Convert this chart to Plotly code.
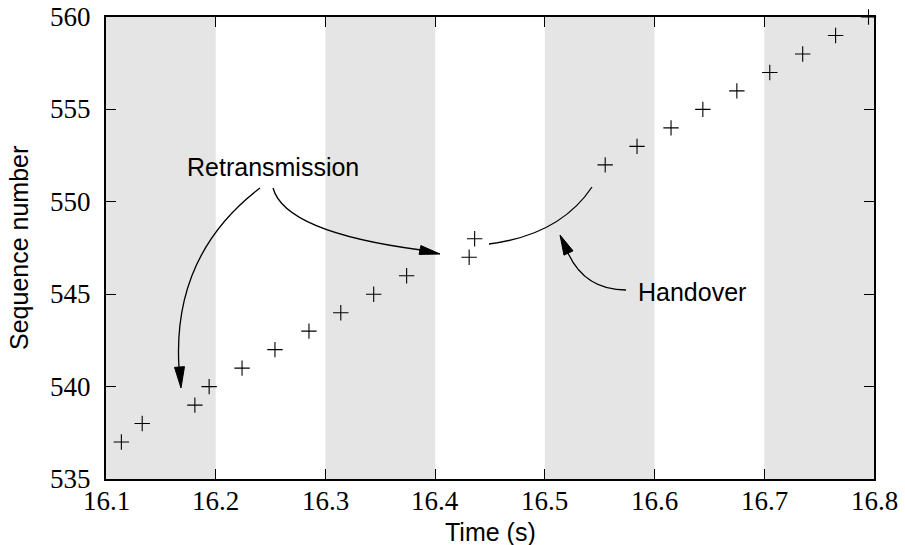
import plotly.graph_objects as go

# ---- data ----
time_s = [16.114, 16.133, 16.181, 16.194, 16.224, 16.254, 16.285, 16.314,
          16.344, 16.374, 16.431, 16.436, 16.555, 16.584, 16.615, 16.644,
          16.675, 16.705, 16.735, 16.765, 16.795]
seq_no = [537, 538, 539, 540, 541, 542, 543, 544, 545, 546, 547, 548,
          552, 553, 554, 555, 556, 557, 558, 559, 560]
band_starts = [16.1, 16.3, 16.5, 16.7]
band_width = 0.1
x_ticks = [16.1, 16.2, 16.3, 16.4, 16.5, 16.6, 16.7, 16.8]
y_ticks = [535, 540, 545, 550, 555, 560]
x_tick_labels = [f"{v:.1f}" for v in x_ticks]
y_tick_labels = [str(v) for v in y_ticks]

# ---- layout constants ----
W, H = 905, 545
ML, MR, MT, MB = 106, 31, 17, 66
XR = [16.1, 16.8]
YR = [535, 560]
PW = W - ML - MR
PH = H - MT - MB


def px2x(px):
    return XR[0] + (px - ML) / PW * (XR[1] - XR[0])


def py2y(py):
    return YR[1] - (py - MT) / PH * (YR[1] - YR[0])


def pt(px, py):
    return f"{px2x(px)},{py2y(py)}"


def curve(p0, c, p2):
    return dict(type="path", xref="x", yref="y",
                path=f"M {pt(*p0)} Q {pt(*c)} {pt(*p2)}",
                line=dict(color="black", width=1.3), layer="above")


def head(tip, base, hw=4.5):
    tx, ty = tip
    bx, by = base
    dx, dy = tx - bx, ty - by
    L = (dx * dx + dy * dy) ** 0.5
    nx, ny = -dy / L * hw, dx / L * hw
    return dict(type="path", xref="x", yref="y",
                path=f"M {pt(tx, ty)} L {pt(bx + nx, by + ny)} L {pt(bx - nx, by - ny)} Z",
                fillcolor="black", line=dict(color="black", width=1), layer="above")


fig = go.Figure()
fig.add_trace(go.Scatter(
    x=time_s, y=seq_no, mode="markers", cliponaxis=False,
    marker=dict(symbol="cross-thin", size=11, color="black",
                line=dict(color="black", width=1.1)),
    showlegend=False))

shapes = []
for s in band_starts:
    shapes.append(dict(type="rect", xref="x", yref="paper", x0=s, x1=s + band_width,
                       y0=0, y1=1, fillcolor="#e5e5e5", line=dict(width=0), layer="below"))

# annotation curves
shapes.append(curve((260, 188), (172, 255), (179, 368)))
shapes.append(head((181, 388), (179.5, 367), 5))
shapes.append(curve((273, 188), (285, 232), (421, 250)))
shapes.append(head((440, 254), (420, 250), 4.5))
shapes.append(curve((489, 244), (560, 235), (592, 187)))
shapes.append(curve((626, 290), (585, 290), (568, 253)))
shapes.append(head((560, 235), (568.5, 253), 5))

sans = "Liberation Sans"
tick_font = dict(family="Liberation Serif", size=27, color="black")

ann = [
    dict(x=px2x(273), y=py2y(167), xref="x", yref="y", text="Retransmission",
         showarrow=False, font=dict(family=sans, size=25, color="black")),
    dict(x=px2x(692), y=py2y(292), xref="x", yref="y", text="Handover",
         showarrow=False, font=dict(family=sans, size=25, color="black")),
    # axis titles
    dict(x=0.5, y=0, xref="paper", yref="paper", yanchor="middle", yshift=-53,
         text="Time (s)", showarrow=False, font=dict(family=sans, size=25, color="black")),
    dict(x=0, y=0.5, xref="paper", yref="paper", xanchor="center", xshift=-87,
         textangle=-90, text="Sequence number", showarrow=False,
         font=dict(family=sans, size=25, color="black")),
]
# tick labels (serif)
for v, t in zip(x_ticks, x_tick_labels):
    ann.append(dict(x=v, y=0, xref="x", yref="paper", yanchor="middle", yshift=-22,
                    text=t, showarrow=False, font=tick_font))
for v, t in zip(y_ticks, y_tick_labels):
    ann.append(dict(x=0, y=v, xref="paper", yref="y", xanchor="right", xshift=-13,
                    yanchor="middle", text=t, showarrow=False, font=tick_font))

fig.update_layout(
    width=W, height=H,
    margin=dict(l=ML, r=MR, t=MT, b=MB, autoexpand=False),
    plot_bgcolor="white", paper_bgcolor="white",
    shapes=shapes,
    annotations=ann,
    xaxis=dict(range=XR, tickvals=x_ticks, showticklabels=False,
               ticks="inside", ticklen=10, tickwidth=1, tickcolor="black",
               showline=True, linecolor="black", linewidth=2, mirror="ticks",
               showgrid=False, zeroline=False, automargin=False),
    yaxis=dict(range=YR, tickvals=y_ticks, showticklabels=False,
               ticks="inside", ticklen=10, tickwidth=1, tickcolor="black",
               showline=True, linecolor="black", linewidth=2, mirror="ticks",
               showgrid=False, zeroline=False, automargin=False),
)

fig.write_html("out.html")
